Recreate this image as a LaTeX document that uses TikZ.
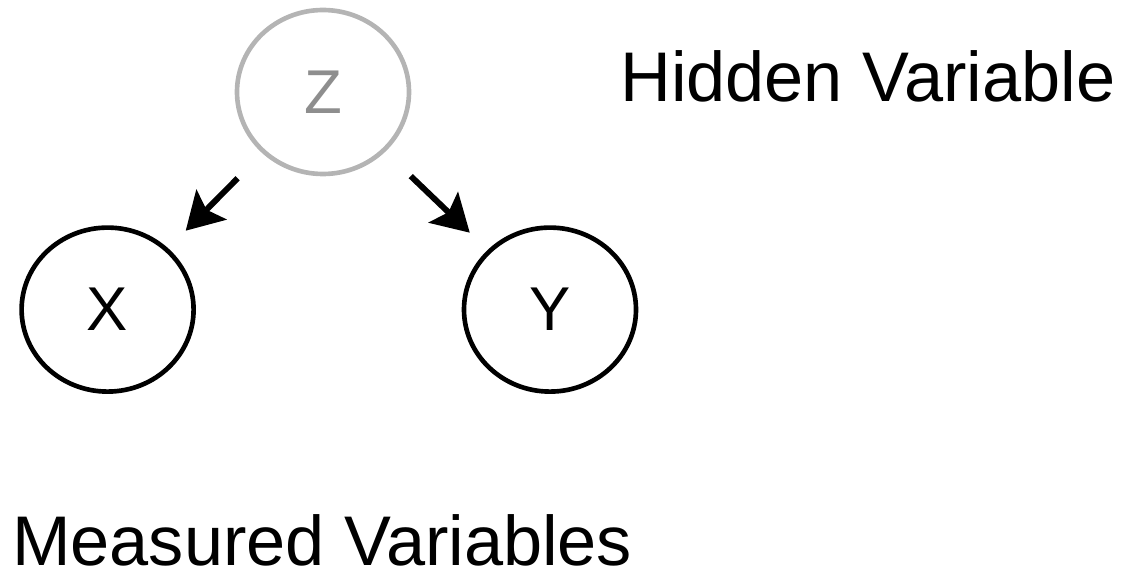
\documentclass[tikz,border=0pt]{standalone}
\usepackage{fontspec}
\setmainfont{Liberation Sans}
\usepackage{tikz}
\usetikzlibrary{arrows.meta,shapes.geometric,positioning}
\definecolor{hiddenRing}{HTML}{B4B4B4}
\definecolor{hiddenText}{HTML}{8E8E8E}
\newcommand{\bigtext}{\fontsize{50}{56}\selectfont}
\newcommand{\vartext}{\fontsize{44}{50}\selectfont}

\begin{document}
\begin{tikzpicture}[
  var/.style={ellipse,draw,line width=3.3pt,minimum width=4.3cm,minimum height=4.1cm,inner sep=0pt,font=\vartext},
  hiddenvar/.style={var,draw=hiddenRing,text=hiddenText},
  cause/.style={-{Stealth[length=26pt,width=30pt,inset=5pt]},line width=4.2pt,shorten <=0.88cm,shorten >=0.62cm}]
\useasboundingbox (0,0) rectangle (28.35,-14.35);
% the hidden cause and the two measured effects
\node[hiddenvar] (z) at (8.075,-2.3) {Z};
\node[var] (x) at (2.69,-7.74) {X};
\node[var] (y) at (13.75,-7.74) {Y};
\draw[cause] (z) -- (x);
\draw[cause] (z) -- (y);
% captions
\node[anchor=base west,inner sep=0pt,font=\bigtext] (hidden) at (15.5,-2.55) {Hidden Variable};
\node[anchor=base west,inner sep=0pt,font=\bigtext] (measured) at (0.3,-14.125) {Measured Variables};
\end{tikzpicture}
\end{document}
